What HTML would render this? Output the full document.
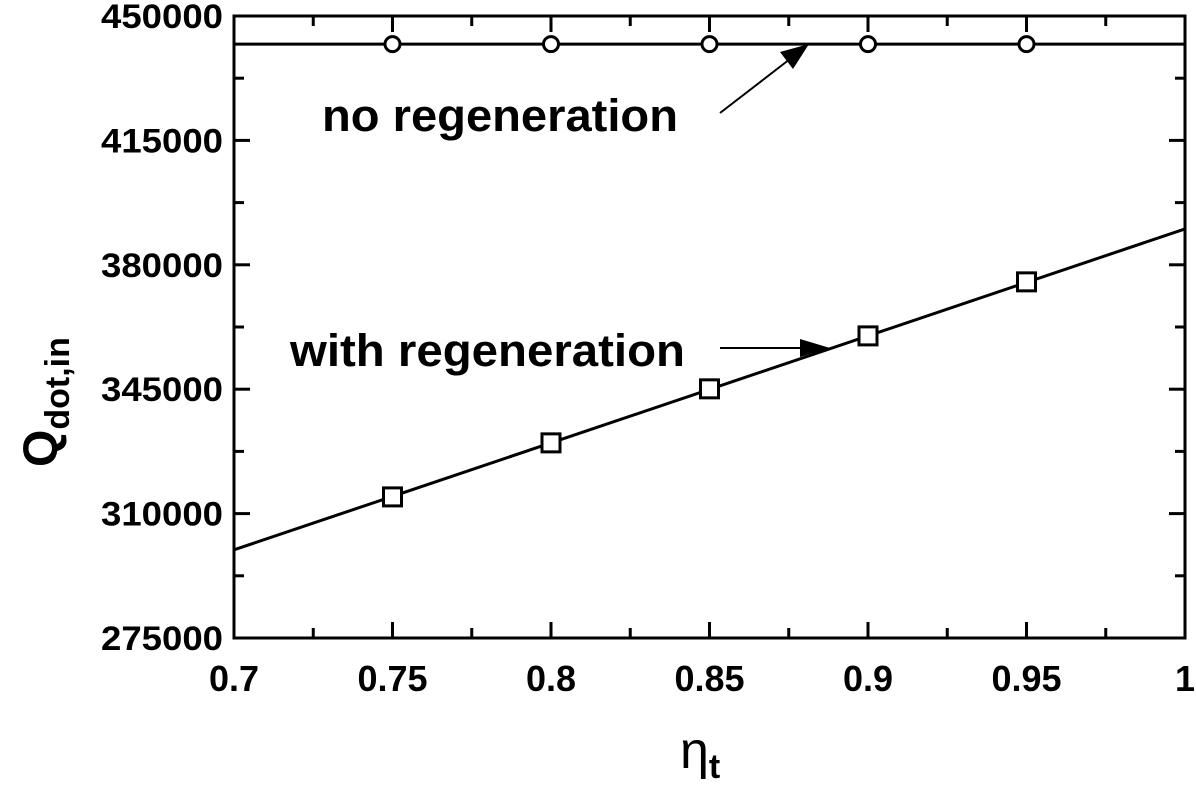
<!DOCTYPE html>
<html><head><meta charset="utf-8"><style>
body{margin:0;background:#fff}
svg text{font-family:"Liberation Sans",Arial,sans-serif;font-weight:bold;fill:#000}
</style></head><body>
<svg id="chart" width="1196" height="785" viewBox="0 0 1196 785" xmlns="http://www.w3.org/2000/svg">
<g id="g"></g>
</svg>
<script>
const xTicks=[0.7,0.75,0.8,0.85,0.9,0.95,1];
const xTickLabels=["0.7","0.75","0.8","0.85","0.9","0.95","1"];
const yTicks=[275000,310000,345000,380000,415000,450000];
const yTickLabels=["275000","310000","345000","380000","415000","450000"];
const etaNoRegen=[0.75,0.8,0.85,0.9,0.95];
const qNoRegen=[442100,442100,442100,442100,442100];
const noRegenLineX=[0.7,1];
const noRegenLineY=[442100,442100];
const etaRegen=[0.75,0.8,0.85,0.9,0.95];
const qRegen=[314700,329900,345100,360000,375200];
const regenLineX=[0.7,1];
const regenLineY=[299800,390100];

const L=234,R=1185,T=16,B=638;
const sx=v=>L+(v-0.7)/(1-0.7)*(R-L);
const sy=v=>B-(v-275000)/(450000-275000)*(B-T);
const g=document.getElementById('g');
const NS='http://www.w3.org/2000/svg';
function mk(tag,attrs,parent){const e=document.createElementNS(NS,tag);for(const k in attrs)e.setAttribute(k,attrs[k]);(parent||g).appendChild(e);return e;}

let fr=mk('rect',{x:L,y:T,width:R-L,height:B-T,fill:'none',stroke:'#000','stroke-width':3});



xTicks.forEach((v,i)=>{
  const x=sx(v);
  let t=mk('line',{x1:x,y1:B,x2:x,y2:B-16,stroke:'#000','stroke-width':3});
  
  
  let t2=mk('line',{x1:x,y1:T,x2:x,y2:T+16,stroke:'#000','stroke-width':3});
  
  
  if(i<xTicks.length-1){
    const m=sx(v+0.025);
    let a=mk('line',{x1:m,y1:B,x2:m,y2:B-10,stroke:'#000','stroke-width':3});
    
    
    let b=mk('line',{x1:m,y1:T,x2:m,y2:T+10,stroke:'#000','stroke-width':3});
    
    
  }
  let lb=mk('text',{x:x,y:691,'font-size':36,'text-anchor':'middle'});
  lb.textContent=xTickLabels[i];
  
  
});
yTicks.forEach((v,i)=>{
  const y=sy(v);
  let t=mk('line',{x1:L,y1:y,x2:L+16,y2:y,stroke:'#000','stroke-width':3});
  
  
  let t2=mk('line',{x1:R,y1:y,x2:R-16,y2:y,stroke:'#000','stroke-width':3});
  
  
  if(i<yTicks.length-1){
    const m=sy(v+17500);
    let a=mk('line',{x1:L,y1:m,x2:L+10,y2:m,stroke:'#000','stroke-width':3});
    
    
    let b=mk('line',{x1:R,y1:m,x2:R-10,y2:m,stroke:'#000','stroke-width':3});
    
    
  }
  let lb=mk('text',{x:223,y:y+12,'font-size':34,'text-anchor':'end',textLength:122,lengthAdjust:'spacingAndGlyphs'});
  lb.textContent=yTickLabels[i];
  
  
});

let l1=mk('line',{x1:sx(noRegenLineX[0]),y1:sy(noRegenLineY[0]),x2:sx(noRegenLineX[1]),y2:sy(noRegenLineY[1]),stroke:'#000','stroke-width':3});


let l2=mk('line',{x1:sx(regenLineX[0]),y1:sy(regenLineY[0]),x2:sx(regenLineX[1]),y2:sy(regenLineY[1]),stroke:'#000','stroke-width':3});



etaNoRegen.forEach((v,i)=>{
  let c=mk('circle',{cx:sx(v),cy:sy(qNoRegen[i]),r:7.5,fill:'#fff',stroke:'#000','stroke-width':3});
  
  
});
etaRegen.forEach((v,i)=>{
  let s=mk('rect',{x:sx(v)-9,y:sy(qRegen[i])-9,width:18,height:18,fill:'#fff',stroke:'#000','stroke-width':3});
  
  
});

let t1=mk('text',{x:322,y:131,'font-size':45,textLength:356,lengthAdjust:'spacingAndGlyphs'});
t1.textContent='no regeneration';


let a1=mk('line',{x1:720,y1:113,x2:790,y2:59,stroke:'#000','stroke-width':2});


let h1=mk('polygon',{points:'809,44 780,52 793,69',fill:'#000'});



let t2=mk('text',{x:290,y:366,'font-size':45,textLength:395,lengthAdjust:'spacingAndGlyphs'});
t2.textContent='with regeneration';


let a2=mk('line',{x1:720,y1:348,x2:805,y2:348,stroke:'#000','stroke-width':2});


let h2=mk('polygon',{points:'830,348 800,339 800,357',fill:'#000'});



let yt=mk('text',{transform:'translate(57,467) rotate(-90)','font-size':48});
yt.innerHTML='Q<tspan font-size="34" dy="12">dot,in</tspan>';


let xt=mk('text',{x:680,y:768,'font-size':52,style:'font-weight:normal'});
xt.innerHTML='η<tspan font-size="34" dy="10" font-weight="bold">t</tspan>';


</script>
</body></html>
